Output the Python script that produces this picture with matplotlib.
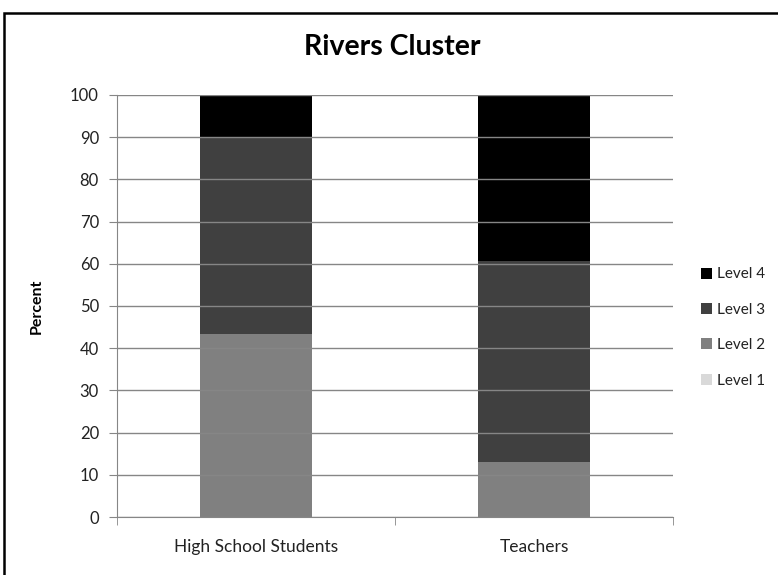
import matplotlib.pyplot as plt
from matplotlib.patches import Rectangle
import numpy as np

plt.rcParams['font.family'] = ['Lato', 'DejaVu Sans']

groups = ['High School Students', 'Teachers']
levels = ['Level 1', 'Level 2', 'Level 3', 'Level 4']
level1 = [0.0, 0.0]
level2 = [43.3, 13.0]
level3 = [46.7, 47.6]
level4 = [10.0, 39.4]
colors = ['#d9d9d9', '#808080', '#404040', '#000000']

fig = plt.figure(figsize=(7.78, 5.75), dpi=100)
ax = fig.add_axes([117 / 778, 1 - 517 / 575, 556 / 778, 422 / 575])

x = np.arange(len(groups))
bottom = np.zeros(len(groups))
handles = []
for name, vals, c in zip(levels, [level1, level2, level3, level4], colors):
    h = ax.bar(x, vals, width=0.4, bottom=bottom, color=c, label=name, zorder=1)
    handles.append(h)
    bottom += np.array(vals)

ax.set_xlim(-0.5, 1.5)
ax.set_ylim(0, 100)
ax.set_yticks(range(0, 101, 10))
ax.yaxis.grid(True, color='#868686', linewidth=1)
ax.set_axisbelow(False)
ax.set_xticks(x)
ax.set_xticklabels(groups, fontsize=12.5, color='#222222')
ax.set_xticks([-0.5, 0.5, 1.5], minor=True)
ax.tick_params(axis='x', which='major', length=0, pad=16)
ax.tick_params(axis='x', which='minor', length=6, color='#868686')
ax.tick_params(axis='y', length=6, color='#868686', labelsize=12,
               labelcolor='#222222', pad=7)
for s in ['top', 'right']:
    ax.spines[s].set_visible(False)
for s in ['left', 'bottom']:
    ax.spines[s].set_color('#868686')

ax.set_ylabel('Percent', fontsize=11.5, fontweight='bold')
ax.yaxis.set_label_coords(-0.132, 0.5)
fig.text(392 / 778, 1 - 47 / 575, 'Rivers Cluster', ha='center', va='center',
         fontsize=20.5, fontweight='bold')

leg = ax.legend(handles[::-1], levels[::-1], loc='center left',
                bbox_to_anchor=(1.05, 0.449), frameon=False, fontsize=11,
                handlelength=0.72, handleheight=0.72, labelspacing=1.4,
                handletextpad=0.35, borderpad=0, borderaxespad=0)
for t in leg.get_texts():
    t.set_color('#222222')

fig.patches.append(Rectangle((4 / 778, -0.1), 1.2, 1 - 13 / 575 + 0.1,
                             transform=fig.transFigure, fill=False,
                             edgecolor='black', linewidth=1.8))

fig.savefig('out.png', dpi=100)
